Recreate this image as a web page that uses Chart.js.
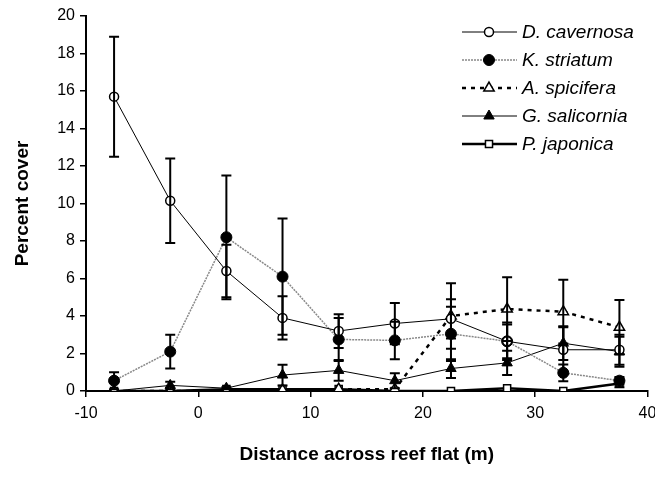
<!DOCTYPE html>
<html>
<head>
<meta charset="utf-8">
<script src="https://cdn.jsdelivr.net/npm/chart.js@4.4.1/dist/chart.umd.min.js"></script>
<style>
  html, body { margin: 0; padding: 0; background: #fff; }
  #wrap { width: 655px; height: 477px; position: relative; }
</style>
</head>
<body>
<div id="wrap"><canvas id="myChart"></canvas></div>
<script>
// distance across reef flat (m)
var xs = [-7.5, -2.5, 2.5, 7.5, 12.5, 17.5, 22.5, 27.5, 32.5, 37.5];

var dCav    = [15.7, 10.15, 6.4, 3.9, 3.2, 3.6, 3.85, 2.65, 2.2, 2.2];
var dCavErr = [3.2, 2.25, 1.4, 1.15, 0.9, 1.1, 1.05, 1.0, 1.2, 0.8];

var kStr    = [0.55, 2.1, 8.2, 6.1, 2.75, 2.7, 3.05, 2.65, 0.97, 0.55];
var kStrErr = [0.45, 0.9, 3.3, 3.1, 1.15, 1.0, 1.45, 0.9, 0.45, 0.2];

var aSpi    = [0, 0, 0, 0.05, 0.1, 0.1, 4.0, 4.37, 4.23, 3.4];
var aSpiErr = [0, 0, 0, 0, 0, 0, 1.75, 1.7, 1.7, 1.45];

var gSal    = [0, 0.3, 0.15, 0.85, 1.1, 0.55, 1.2, 1.5, 2.55, 2.1];
var gSalErr = [0, 0.2, 0.05, 0.55, 0.55, 0.4, 0.5, 0.65, 0.9, 0.8];

var pJap    = [0, 0, 0.1, 0.1, 0.1, 0, 0, 0.15, 0, 0.4];
var pJapErr = [0, 0, 0, 0, 0, 0, 0, 0, 0, 0.2];

var names = ['D. cavernosa', 'K. striatum', 'A. spicifera', 'G. salicornia', 'P. japonica'];
var xTicks = [-10, 0, 10, 20, 30, 40];

var FONT = 'Arial, "Liberation Sans", sans-serif';

function pts(ys) {
  return xs.map(function (x, i) { return { x: x, y: ys[i] }; });
}

var errs = [dCavErr, kStrErr, aSpiErr, gSalErr, pJapErr];

// error bars drawn through the scales
var errorBars = {
  id: 'errorBars',
  afterDatasetsDraw: function (chart) {
    var c = chart.ctx, sx = chart.scales.x, sy = chart.scales.y;
    c.save();
    c.strokeStyle = '#000';
    c.lineWidth = 2;
    chart.data.datasets.forEach(function (ds, k) {
      ds.data.forEach(function (p, i) {
        var e = errs[k][i];
        if (!e) return;
        var px = sx.getPixelForValue(p.x);
        var top = sy.getPixelForValue(p.y + e);
        var bot = sy.getPixelForValue(Math.max(0, p.y - e));
        c.beginPath();
        c.moveTo(px, top); c.lineTo(px, bot);
        c.moveTo(px - 5, top); c.lineTo(px + 5, top);
        c.moveTo(px - 5, bot); c.lineTo(px + 5, bot);
        c.stroke();
      });
    });
    c.restore();
  }
};

// legend: line, marker, italic name
var legendStyled = {
  id: 'legendStyled',
  afterDraw: function (chart) {
    var c = chart.ctx;
    var x0 = 462, x1 = 517, xm = 489, xt = 522;
    var rows = [32, 60, 88, 116, 144];
    chart.data.datasets.forEach(function (ds, k) {
      var y = rows[k];
      c.save();
      c.strokeStyle = ds.borderColor;
      c.lineWidth = ds.borderWidth;
      c.setLineDash(ds.borderDash || []);
      c.beginPath(); c.moveTo(x0, y); c.lineTo(x1, y); c.stroke();
      c.restore();
      c.save();
      c.fillStyle = ds.pointBackgroundColor;
      c.strokeStyle = ds.pointBorderColor;
      c.lineWidth = ds.pointBorderWidth;
      Chart.helpers.drawPoint(c, { pointStyle: ds.pointStyle, radius: ds.pointRadius, borderWidth: ds.pointBorderWidth }, xm, y);
      c.restore();
      c.save();
      c.font = 'italic 19px ' + FONT;
      c.fillStyle = '#000';
      c.textBaseline = 'middle';
      c.fillText(names[k], xt, y + 1);
      c.restore();
    });
  }
};

var ctx = document.getElementById('myChart');
var myChart = new Chart(ctx, {
  type: 'scatter',
  data: {
    datasets: [
      { label: names[0], data: pts(dCav), showLine: true,
        borderColor: '#000', borderWidth: 1,
        pointStyle: 'circle', pointRadius: 4.5, pointBorderWidth: 1.5,
        pointBackgroundColor: '#fff', pointBorderColor: '#000' },
      { label: names[1], data: pts(kStr), showLine: true,
        borderColor: '#888', borderWidth: 1.5, borderDash: [2, 1],
        pointStyle: 'circle', pointRadius: 5.5, pointBorderWidth: 1,
        pointBackgroundColor: '#000', pointBorderColor: '#000' },
      { label: names[2], data: pts(aSpi), showLine: true,
        borderColor: '#000', borderWidth: 2.5, borderDash: [4, 5],
        pointStyle: 'triangle', pointRadius: 6, pointBorderWidth: 1.5,
        pointBackgroundColor: '#fff', pointBorderColor: '#000' },
      { label: names[3], data: pts(gSal), showLine: true,
        borderColor: '#000', borderWidth: 1,
        pointStyle: 'triangle', pointRadius: 6, pointBorderWidth: 1,
        pointBackgroundColor: '#000', pointBorderColor: '#000' },
      { label: names[4], data: pts(pJap), showLine: true,
        borderColor: '#000', borderWidth: 2.5,
        pointStyle: 'rect', pointRadius: 5, pointBorderWidth: 1.5,
        pointBackgroundColor: '#fff', pointBorderColor: '#000' }
    ]
  },
  options: {
    responsive: true,
    maintainAspectRatio: false,
    animation: false,
    layout: { padding: { top: 16, right: 3, left: 0, bottom: 0 } },
    plugins: { legend: { display: false }, tooltip: { enabled: false } },
    scales: {
      x: {
        type: 'linear', min: -10, max: 40,
        afterBuildTicks: function (s) { s.ticks = xTicks.map(function (v) { return { value: v }; }); },
        afterFit: function (s) {
          s.height = 86;
          s.paddingLeft = 0;
          s.paddingRight = 0;
          if (s._margins) { s._margins.right = 0; }
        },
        border: { color: '#000', width: 2 },
        grid: { drawOnChartArea: false, color: '#000', tickLength: 6, lineWidth: 1.5 },
        ticks: { color: '#000', font: { family: FONT, size: 16 }, padding: 7, maxRotation: 0 },
        title: { display: true, text: 'Distance across reef flat (m)', color: '#000',
                 font: { family: FONT, size: 19, weight: 'bold' }, padding: { bottom: 11 } }
      },
      y: {
        min: 0, max: 20,
        ticks: { stepSize: 2, color: '#000', font: { family: FONT, size: 16 }, padding: 5 },
        afterFit: function (s) { s.width = 86; s.paddingTop = 0; s.paddingBottom = 0; },
        border: { color: '#000', width: 2 },
        grid: { drawOnChartArea: false, color: '#000', tickLength: 6, lineWidth: 1.5 },
        title: { display: true, text: 'Percent cover', color: '#000',
                 font: { family: FONT, size: 19, weight: 'bold' }, padding: { top: 11 } }
      }
    }
  },
  plugins: [errorBars, legendStyled]
});
</script>
</body>
</html>
